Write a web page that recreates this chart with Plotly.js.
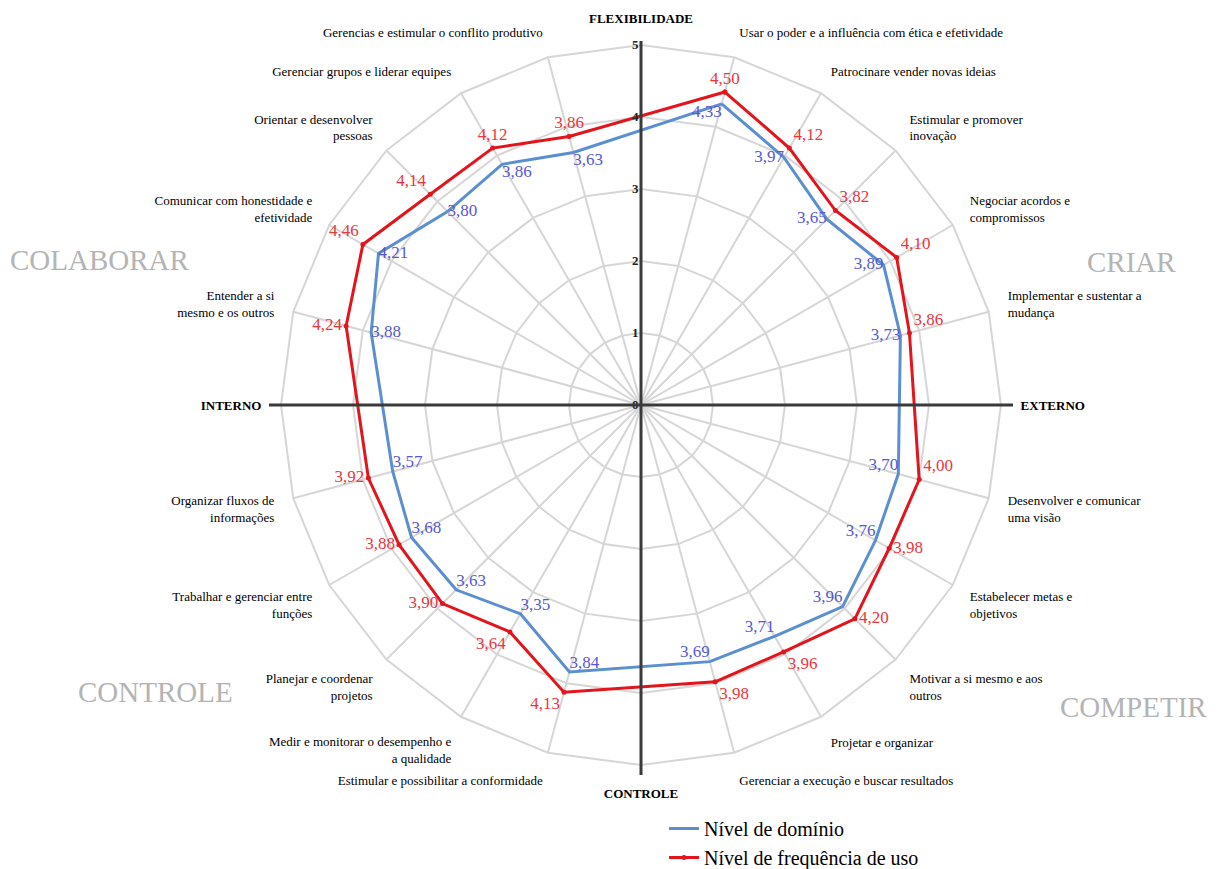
<!DOCTYPE html>
<html>
<head>
<meta charset="utf-8">
<script src="https://cdn.plot.ly/plotly-3.0.1.min.js"></script>
<style>html,body{margin:0;padding:0;background:#fff;}#chart{width:1229px;height:869px;}</style>
</head>
<body>
<div id="chart"></div>
<script>
// Poles of the competing values framework (axis ends)
const polos = ['FLEXIBILIDADE', 'EXTERNO', 'CONTROLE', 'INTERNO'];

// Competencies, clockwise from the top
const competencias = [
  'Usar o poder e a influência com ética e efetividade',
  'Patrocinare vender novas ideias',
  'Estimular e promover inovação',
  'Negociar acordos e compromissos',
  'Implementar e sustentar a mudança',
  'Desenvolver e comunicar uma visão',
  'Estabelecer metas e objetivos',
  'Motivar a si mesmo e aos outros',
  'Projetar e organizar',
  'Gerenciar a execução e buscar resultados',
  'Estimular e possibilitar a conformidade',
  'Medir e monitorar o desempenho e a qualidade',
  'Planejar e coordenar projetos',
  'Trabalhar e gerenciar entre funções',
  'Organizar fluxos de informações',
  'Entender a si mesmo e os outros',
  'Comunicar com honestidade e efetividade',
  'Orientar e desenvolver pessoas',
  'Gerenciar grupos e liderar equipes',
  'Gerencias e estimular o conflito produtivo'
];

// Tick labels as shown (line breaks)
const rotulos = [
  'Usar o poder e a influência com ética e efetividade',
  'Patrocinare vender novas ideias',
  'Estimular e promover<br>inovação',
  'Negociar acordos e<br>compromissos',
  'Implementar e sustentar a<br>mudança',
  'Desenvolver e comunicar<br>uma visão',
  'Estabelecer metas e<br>objetivos',
  'Motivar a si mesmo e aos<br>outros',
  'Projetar e organizar',
  'Gerenciar a execução e buscar resultados',
  'Estimular e possibilitar a conformidade',
  'Medir e monitorar o desempenho e<br>a qualidade',
  'Planejar e coordenar<br>projetos',
  'Trabalhar e gerenciar entre<br>funções',
  'Organizar fluxos de<br>informações',
  'Entender a si<br>mesmo e os outros',
  'Comunicar com honestidade e<br>efetividade',
  'Orientar e desenvolver<br>pessoas',
  'Gerenciar grupos e liderar equipes',
  'Gerencias e estimular o conflito produtivo'
];

const dominio = [4.33, 3.97, 3.65, 3.89, 3.73, 3.70, 3.76, 3.96, 3.71, 3.69,
                 3.84, 3.35, 3.63, 3.68, 3.57, 3.88, 4.21, 3.80, 3.86, 3.63];
const frequencia = [4.50, 4.12, 3.82, 4.10, 3.86, 4.00, 3.98, 4.20, 3.96, 3.98,
                    4.13, 3.64, 3.90, 3.88, 3.92, 4.24, 4.46, 4.14, 4.12, 3.86];

const quadrantes = ['COLABORAR', 'CRIAR', 'CONTROLE', 'COMPETIR'];
const serieNomes = ['Nível de domínio', 'Nível de frequência de uso'];

// Build 24-slot angular category axis (pole every 6th slot)
const eixo = [], eixoTexto = [];
competencias.forEach((c, i) => {
  if (i % 5 === 0) { eixo.push(polos[i / 5]); eixoTexto.push('<b>' + polos[i / 5] + '</b>'); }
  eixo.push(c); eixoTexto.push(rotulos[i]);
});

const fmt = v => v.toFixed(2).replace('.', ',');
const fechar = a => a.concat([a[0]]);

const posRed = ['top center','top right','top right','top right','top right','top right','middle right','middle right','bottom right','bottom right',
                'bottom left','bottom left','middle left','middle left','middle left','middle left','top left','top left','top center','top center'];
const posBlue = ['bottom left','middle left','middle left','middle left','middle left','top left','top left','top left','top left','top left',
                 'top right','top right','top right','top right','top right','middle right','middle right','middle right','bottom right','bottom right'];

const serif = "'Liberation Serif'";

const traces = [
  {
    type: 'scatterpolar', name: serieNomes[0],
    theta: fechar(competencias), r: fechar(dominio),
    mode: 'lines+text',
    text: dominio.map(fmt).concat(['']),
    textposition: posBlue.concat(['top center']),
    textfont: {family: serif, size: 17, color: 'rgb(88,88,212)'},
    line: {color: '#5b8fd0', width: 3},
    cliponaxis: false
  },
  {
    type: 'scatterpolar', name: serieNomes[1],
    theta: fechar(competencias), r: fechar(frequencia),
    mode: 'lines+markers+text',
    text: frequencia.map(fmt).concat(['']),
    textposition: posRed.concat(['top center']),
    textfont: {family: serif, size: 17, color: 'rgb(236,52,62)'},
    line: {color: '#e3141c', width: 3},
    marker: {color: '#e3141c', size: 5},
    cliponaxis: false
  }
];

const R = 360, cx = 641, cy = 405, W = 1229, H = 869;
const px = x => x / W, py = y => (H - y) / H;

const layout = {
  width: W, height: H,
  margin: {l: 0, r: 0, t: 0, b: 0, autoexpand: false},
  paper_bgcolor: '#fff',
  font: {family: serif, color: '#000'},
  showlegend: true,
  legend: {
    x: px(664), y: py(809), xanchor: 'left', yanchor: 'top',
    font: {family: serif, size: 20, color: '#000'},
    bgcolor: 'rgba(0,0,0,0)', tracegroupgap: 0
  },
  polar: {
    domain: {x: [px(cx - R), px(cx + R)], y: [py(cy + R), py(cy - R)]},
    bgcolor: 'rgba(0,0,0,0)',
    gridshape: 'linear',
    angularaxis: {
      type: 'category', categoryorder: 'array', categoryarray: eixo,
      tickmode: 'array', tickvals: eixo, ticktext: eixoTexto,
      direction: 'clockwise', rotation: 90,
      showline: true, linecolor: '#d6d6d6', linewidth: 2,
      gridcolor: '#d6d6d6', gridwidth: 2,
      ticks: 'outside', ticklen: 16, tickcolor: 'rgba(0,0,0,0)',
      tickfont: {family: serif, size: 13, color: '#000'}
    },
    radialaxis: {
      range: [0, 5], tickmode: 'linear', tick0: 0, dtick: 1,
      angle: 90, side: 'counterclockwise', tickangle: 90,
      showline: false, ticks: '',
      gridcolor: '#d6d6d6', gridwidth: 2,
      tickfont: {family: serif, size: 13, color: '#222', weight: 'bold'}
    }
  },
  shapes: [
    {type: 'line', xref: 'paper', yref: 'paper', layer: 'above',
     x0: px(cx - R - 12), x1: px(cx + R + 12), y0: py(cy), y1: py(cy),
     line: {color: '#3a3a3a', width: 3}},
    {type: 'line', xref: 'paper', yref: 'paper', layer: 'above',
     x0: px(cx), x1: px(cx), y0: py(cy - R - 4), y1: py(cy + R + 10),
     line: {color: '#3a3a3a', width: 3}}
  ],
  annotations: [
    {text: quadrantes[0], x: px(100), y: py(260)},
    {text: quadrantes[1], x: px(1131), y: py(262)},
    {text: quadrantes[2], x: px(155), y: py(692)},
    {text: quadrantes[3], x: px(1133), y: py(707)}
  ].map(a => Object.assign(a, {
    xref: 'paper', yref: 'paper', showarrow: false, xanchor: 'center', yanchor: 'middle',
    font: {family: serif, size: 29, color: '#b4b4b4'}
  }))
};

Plotly.newPlot('chart', traces, layout, {displayModeBar: false, responsive: false});
</script>
</body>
</html>
